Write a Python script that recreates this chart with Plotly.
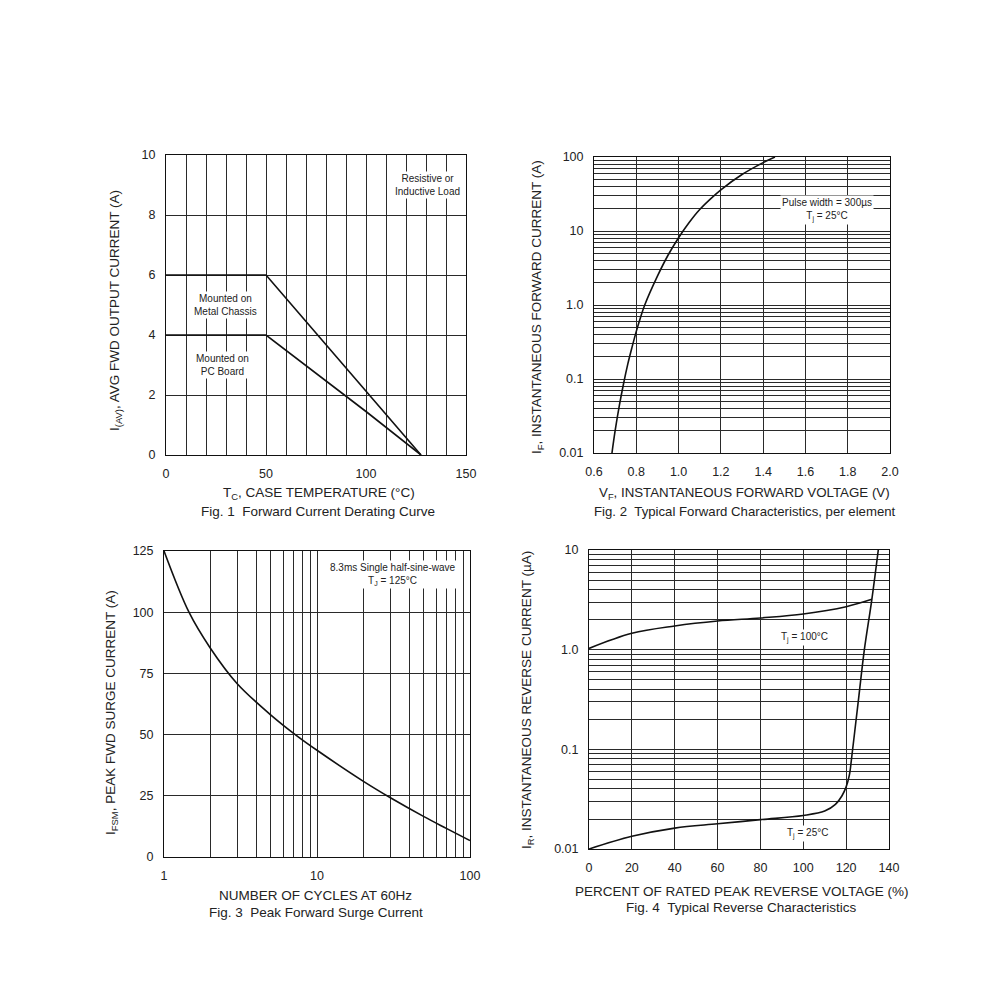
import plotly.graph_objects as go

# ---------------- data ----------------
# Fig. 1 Forward current derating
f1_chassis_t = [0, 50, 127.5]
f1_chassis_i = [6, 6, 0]
f1_pcb_t = [0, 50, 100, 127.5]
f1_pcb_i = [4, 4, 1.45, 0]

# Fig. 2 Typical forward characteristics
f2_vf = [0.685, 0.70, 0.72, 0.74, 0.76, 0.78, 0.80, 0.82, 0.84, 0.90, 0.95, 1.00, 1.05,
         1.10, 1.15, 1.20, 1.30, 1.40, 1.456]
f2_if = [0.01, 0.02, 0.044, 0.087, 0.16, 0.27, 0.44, 0.68, 1.0, 2.45, 4.7, 8.1, 13,
         19.5, 27, 36, 58, 84, 100]

# Fig. 3 Peak forward surge current
f3_cycles = [1, 1.456, 2, 3, 5, 7.5, 10, 20, 30, 50, 70, 100]
f3_ifsm = [125, 100, 85.5, 70.9, 58.0, 49.2, 43.6, 31.0, 24.3, 16.5, 11.7, 6.7]

# Fig. 4 Typical reverse characteristics
f4_v100 = [0, 20, 40, 60, 80, 100, 120, 132]
f4_i100 = [1.03, 1.46, 1.73, 1.94, 2.08, 2.28, 2.7, 3.2]
f4_v25 = [0, 20, 40, 60, 80, 100, 110, 115, 118, 120, 121.5, 122.5, 124, 126, 128.5, 132, 135]
f4_i25 = [0.01, 0.0134, 0.0162, 0.0179, 0.0197, 0.0217, 0.024, 0.028, 0.034, 0.042, 0.055,
          0.08, 0.15, 0.35, 1.0, 3.2, 10]

# tick labels
f2_yticks = [0.01, 0.1, 1, 10, 100]
f2_ylabels = ["0.01", "0.1", "1.0", "10", "100"]
f3_xticks = [1, 10, 100]
f3_xlabels = ["1", "10", "100"]
f4_yticks = [0.01, 0.1, 1, 10]
f4_ylabels = ["0.01", "0.1", "1.0", "10"]

W, H = 1000, 1006
FONT = "Liberation Sans, Arial, sans-serif"
TXT = "#222222"
GRID = "#2a2a2a"


def px(x):
    return x / W


def py(y):
    return 1 - y / H


def log_minor(lo_exp, hi_exp):
    vals = []
    for e in range(lo_exp, hi_exp):
        for k in range(2, 10):
            vals.append(k * 10 ** e)
    return vals


fig = go.Figure()
line = dict(color="#111111", width=1.6)

fig.add_trace(go.Scatter(x=f1_chassis_t, y=f1_chassis_i, mode="lines", line=line, xaxis="x", yaxis="y"))
fig.add_trace(go.Scatter(x=f1_pcb_t, y=f1_pcb_i, mode="lines", line=line, xaxis="x", yaxis="y"))
fig.add_trace(go.Scatter(x=f2_vf, y=f2_if, mode="lines", line=dict(line, shape="spline"), xaxis="x2", yaxis="y2"))
fig.add_trace(go.Scatter(x=f3_cycles, y=f3_ifsm, mode="lines", line=dict(line, shape="spline"), xaxis="x3", yaxis="y3"))
fig.add_trace(go.Scatter(x=f4_v100, y=f4_i100, mode="lines", line=dict(line, shape="spline"), xaxis="x4", yaxis="y4"))
fig.add_trace(go.Scatter(x=f4_v25, y=f4_i25, mode="lines", line=dict(line, shape="spline"), xaxis="x4", yaxis="y4"))

common = dict(
    showline=True, mirror=True, linecolor="#111111", linewidth=1,
    showgrid=True, gridcolor=GRID, gridwidth=1, zeroline=False, automargin=False,
    ticks="outside", ticklen=7, tickcolor="rgba(0,0,0,0)",
    tickfont=dict(family=FONT, size=12.5, color=TXT),
)
minor_common = dict(showgrid=True, gridcolor=GRID, gridwidth=1, ticks="")

fig.update_layout(
    xaxis=dict(common, domain=[px(166), px(466)], range=[0, 150], dtick=50, tick0=0,
               minor=dict(minor_common, dtick=10, tick0=0), anchor="y"),
    yaxis=dict(common, domain=[py(455), py(155)], range=[0, 10], dtick=2, tick0=0, anchor="x"),
    xaxis2=dict(common, domain=[px(594), px(890)], range=[0.6, 2.0], dtick=0.2, tick0=0.6,
                tickformat=".1f", anchor="y2"),
    yaxis2=dict(common, domain=[py(453), py(157)], type="log", range=[-2, 2],
                tickmode="array", tickvals=f2_yticks, ticktext=f2_ylabels,
                minor=dict(minor_common, tickmode="array", tickvals=log_minor(-2, 2)), anchor="x2"),
    xaxis3=dict(common, domain=[px(164), px(470)], type="log", range=[0, 2],
                tickmode="array", tickvals=f3_xticks, ticktext=f3_xlabels,
                minor=dict(minor_common, tickmode="array", tickvals=log_minor(0, 2)), anchor="y3"),
    yaxis3=dict(common, domain=[py(857), py(551)], range=[0, 125], dtick=25, tick0=0, anchor="x3"),
    xaxis4=dict(common, domain=[px(589), px(889)], range=[0, 140], dtick=20, tick0=0, anchor="y4"),
    yaxis4=dict(common, domain=[py(849), py(550)], type="log", range=[-2, 1],
                tickmode="array", tickvals=f4_yticks, ticktext=f4_ylabels,
                minor=dict(minor_common, tickmode="array", tickvals=log_minor(-2, 1)), anchor="x4"),
)

annotations = []


def note(x, y, text, size=10, bg="white", angle=0):
    a = dict(
        x=px(x), y=py(y), xref="paper", yref="paper", text=text, showarrow=False,
        xanchor="center", yanchor="middle", align="center", textangle=angle,
        font=dict(family=FONT, size=size, color=TXT), borderpad=1,
    )
    if bg:
        a["bgcolor"] = bg
    annotations.append(a)


# in-plot notes
note(427, 185, "Resistive or<br>Inductive Load", 10)
note(225, 305, "Mounted on<br>Metal Chassis", 10)
note(222, 364.5, "Mounted on<br>PC Board", 10)
note(827, 210.5, "Pulse width = 300µs<br>T<sub>j</sub> = 25°C", 10)
note(392, 574.5, "8.3ms Single half-sine-wave<br>T<sub>J</sub> = 125°C", 10)
note(804, 637, "T<sub>j</sub> = 100°C", 10)
note(807, 833, "T<sub>j</sub> = 25°C", 10)

# axis titles
note(319, 494, "T<sub>C</sub>, CASE TEMPERATURE (°C)", 13.5, bg=None)
note(744, 494, "V<sub>F</sub>, INSTANTANEOUS FORWARD VOLTAGE (V)", 13.3, bg=None)
note(315.5, 895, "NUMBER OF CYCLES AT 60Hz", 13.5, bg=None)
note(741.5, 891, "PERCENT OF RATED PEAK REVERSE VOLTAGE (%)", 13.5, bg=None)

note(115, 311, "I<sub>(AV)</sub>, AVG FWD OUTPUT CURRENT (A)", 13.5, bg=None, angle=-90)
note(538, 307, "I<sub>F</sub>, INSTANTANEOUS FORWARD CURRENT (A)", 13.5, bg=None, angle=-90)
note(111, 713, "I<sub>FSM</sub>, PEAK FWD SURGE CURRENT (A)", 13.5, bg=None, angle=-90)
note(527, 700, "I<sub>R</sub>, INSTANTANEOUS REVERSE CURRENT (µA)", 13.5, bg=None, angle=-90)

# captions
note(318, 512, "Fig. 1\u00a0\u00a0Forward Current Derating Curve", 13.5, bg=None)
note(745, 512, "Fig. 2\u00a0\u00a0Typical Forward Characteristics, per element", 13.2, bg=None)
note(315.5, 912, "Fig. 3\u00a0\u00a0Peak Forward Surge Current", 13.5, bg=None)
note(741.5, 907, "Fig. 4\u00a0\u00a0Typical Reverse Characteristics", 13.5, bg=None)

fig.update_layout(
    width=W, height=H, margin=dict(l=0, r=0, t=0, b=0),
    paper_bgcolor="white", plot_bgcolor="white", showlegend=False,
    annotations=annotations,
    font=dict(family=FONT, color=TXT),
)

fig.write_html("out.html")
